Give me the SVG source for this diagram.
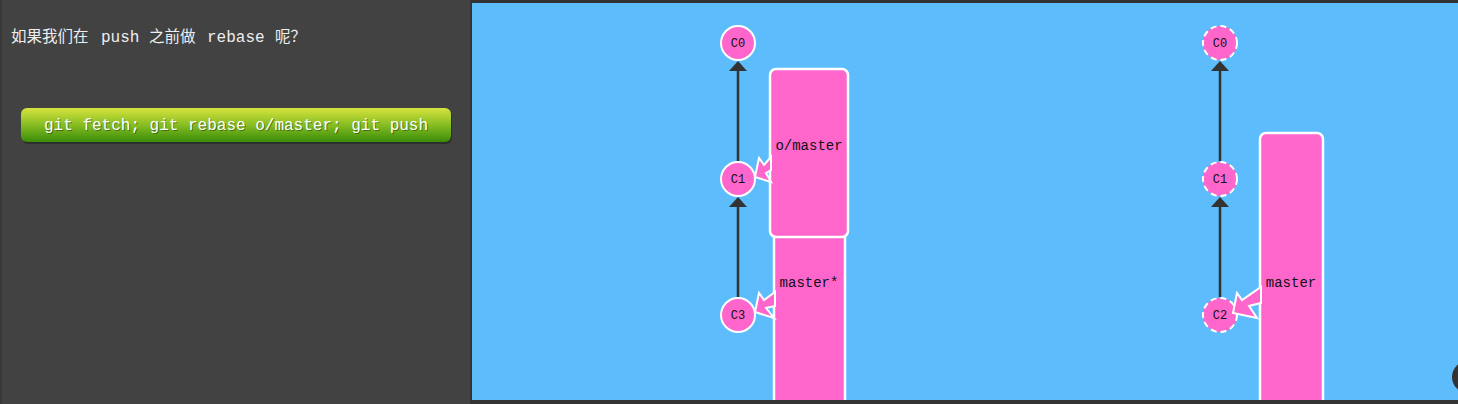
<svg xmlns="http://www.w3.org/2000/svg" width="1458" height="404" viewBox="0 0 1458 404">
<defs>
<linearGradient id="btn" x1="0" y1="0" x2="0" y2="1">
<stop offset="0" stop-color="#d7e33e"/>
<stop offset="0.5" stop-color="#86bd22"/>
<stop offset="1" stop-color="#3a8c08"/>
</linearGradient>
<style>
.commit{fill:#ff66cc;stroke:#fff;stroke-width:2}
.dashed{stroke-dasharray:6 4}
.clabel{font-family:"Liberation Mono",monospace;font-size:12px;fill:#111;text-anchor:middle}
.edge{stroke:#333;stroke-width:2.5;fill:none}
.head{fill:#333}
.branch{fill:#ff66cc;stroke:#fff;stroke-width:2.5}
.blabel{font-family:"Liberation Mono",monospace;font-size:14px;fill:#111;text-anchor:middle}
.barrow{fill:#ff66cc;stroke:#fff;stroke-width:2;stroke-linejoin:miter}
.cn{font-family:"Noto Sans CJK SC",sans-serif;font-size:15.5px;fill:#eee}
.mono{font-family:"Liberation Mono",monospace;font-size:16px;fill:#eee}
</style>
</defs>
<rect x="0" y="0" width="1458" height="404" fill="#424242"/>
<rect x="0" y="0" width="2" height="404" fill="#383838"/>
<rect x="470" y="0" width="988" height="404" fill="#333"/>
<rect x="472" y="3" width="986" height="397" fill="#5cbcfc"/>

<g id="intro">
<text y="42"><tspan class="cn" x="11">如果我们在</tspan><tspan class="mono" x="101">push</tspan><tspan class="cn" x="149">之前做</tspan><tspan class="mono" x="207">rebase</tspan><tspan class="cn" x="275">呢？</tspan></text>
</g>

<g id="command-button">
<rect x="22" y="110" width="430" height="34" rx="6" fill="#222" opacity="0.6"/>
<rect x="21" y="108" width="430" height="34" rx="6" fill="url(#btn)"/>
<text x="237" y="131" font-family="Liberation Mono, monospace" font-size="16" fill="#000" opacity="0.35" text-anchor="middle">git fetch; git rebase o/master; git push</text>
<text x="236" y="130" font-family="Liberation Mono, monospace" font-size="16" fill="#fff" text-anchor="middle">git fetch; git rebase o/master; git push</text>
</g>

<g id="connectors">
<line class="edge" x1="738" y1="161" x2="738" y2="68"/>
<polygon class="head" points="738,61 729,71 747,71"/>
<line class="edge" x1="738" y1="297" x2="738" y2="204"/>
<polygon class="head" points="738,197 729,207 747,207"/>
<line class="edge" x1="1220" y1="161" x2="1220" y2="68"/>
<polygon class="head" points="1220,61 1211,71 1229,71"/>
<line class="edge" x1="1220" y1="297" x2="1220" y2="204"/>
<polygon class="head" points="1220,197 1211,207 1229,207"/>
</g>

<g id="commit-C0-left"><circle class="commit" cx="738" cy="43" r="17"/><text class="clabel" x="738" y="47">C0</text></g>
<g id="commit-C1-left"><circle class="commit" cx="738" cy="179" r="17"/><text class="clabel" x="738" y="183">C1</text></g>
<g id="commit-C3-left"><circle class="commit" cx="738" cy="315" r="17"/><text class="clabel" x="738" y="319">C3</text></g>

<g id="commit-C0-right"><circle class="commit dashed" cx="1220" cy="43" r="17"/><text class="clabel" x="1220" y="47">C0</text></g>
<g id="commit-C1-right"><circle class="commit dashed" cx="1220" cy="179" r="17"/><text class="clabel" x="1220" y="183">C1</text></g>
<g id="commit-C2-right"><circle class="commit dashed" cx="1220" cy="315" r="17"/><text class="clabel" x="1220" y="319">C2</text></g>

<g id="branch-master-star">
<rect class="branch" x="774" y="225" width="71" height="200" rx="4"/>
<polygon class="barrow" points="755,312 759,293 764,300 775,292 775,306 766,308 774,318"/>
<text class="blabel" x="809" y="287">master*</text>
</g>

<g id="branch-o-master">
<rect class="branch" x="770" y="69" width="78" height="168" rx="6"/>
<polygon class="barrow" points="755,177 759,158 764,165 771,157 771,170 766,173 771,182"/>
<text class="blabel" x="809" y="150">o/master</text>
</g>

<g id="branch-master">
<rect class="branch" x="1260" y="133" width="63" height="290" rx="6"/>
<polygon class="barrow" points="1233,313 1237,293 1242,300 1261,287 1261,303 1249,306 1257,318"/>
<text class="blabel" x="1291" y="287">master</text>
</g>

<circle cx="1468" cy="377" r="16" fill="#333"/>
<rect x="472" y="400" width="986" height="4" fill="#333"/>
</svg>
